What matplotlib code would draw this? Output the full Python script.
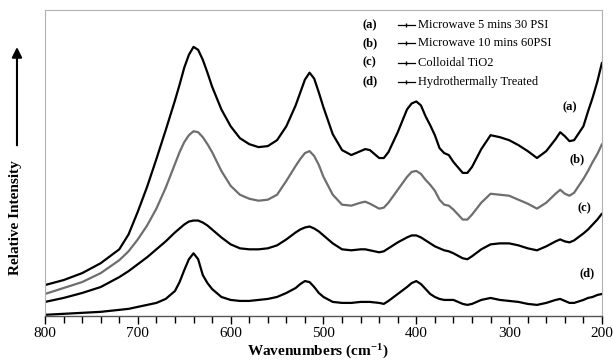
import numpy as np
import matplotlib
matplotlib.use("Agg")
import matplotlib.pyplot as plt
from matplotlib.patches import FancyArrowPatch
from matplotlib.ticker import MultipleLocator

plt.rcParams['font.family'] = ['Liberation Serif', 'DejaVu Serif']
plt.rcParams['mathtext.default'] = 'regular'

# Raman shift (cm-1) shared by all spectra
wavenumber = [800, 780, 760, 740, 720, 710, 700, 690, 680, 670,
              660, 655, 650, 645, 640, 635, 630, 625, 620, 610,
              600, 590, 580, 570, 560, 550, 540, 530, 525, 520,
              515, 510, 505, 500, 490, 480, 470, 460, 455, 450,
              440, 435, 430, 420, 410, 405, 400, 395, 390, 385,
              380, 375, 370, 365, 360, 350, 345, 340, 330, 320,
              310, 300, 290, 280, 270, 260, 250, 245, 240, 235,
              230, 220, 215, 210, 205, 200]

# intensities (arbitrary units, stacked as in the figure)
int_a = [31, 36, 43, 53, 67, 82, 105, 130, 158, 187,
         217, 233, 250, 263, 271, 268, 258, 245, 231, 208,
         191, 179, 173, 170, 171, 177, 191, 212, 225, 238,
         245, 239, 225, 210, 183, 167, 162, 166, 168, 167,
         159, 159, 165, 185, 208, 214, 216, 212, 201, 192,
         182, 169, 164, 162, 155, 144, 144, 150, 168, 182,
         180, 177, 172, 166, 159, 166, 178, 185, 181, 176,
         177, 191, 206, 220, 236, 255]
int_b = [22, 28, 34, 43, 56, 65, 77, 91, 108, 129,
         153, 165, 175, 182, 186, 185, 180, 173, 165, 146,
         131, 122, 118, 116, 117, 122, 136, 151, 158, 164,
         166, 161, 152, 140, 122, 112, 111, 114, 115, 113,
         108, 109, 114, 127, 140, 145, 146, 143, 137, 132,
         126, 117, 112, 111, 107, 97, 97, 102, 114, 123,
         122, 121, 117, 113, 108, 114, 123, 127, 123, 121,
         124, 138, 146, 155, 163, 173]
int_c = [14, 18, 23, 29, 39, 45, 52, 59, 67, 75,
         84, 88, 92, 95, 96, 96, 94, 91, 87, 79,
         72, 68, 67, 67, 68, 71, 77, 84, 87, 89,
         90, 88, 85, 81, 73, 67, 66, 67, 67, 66,
         64, 65, 68, 74, 79, 81, 81, 79, 76, 73,
         70, 68, 66, 65, 63, 58, 57, 60, 67, 72,
         73, 73, 71, 68, 66, 70, 75, 77, 75, 74,
         76, 83, 87, 92, 97, 103]
int_d = [1, 2, 3, 4, 6, 7, 9, 11, 13, 17,
         25, 34, 46, 57, 63, 57, 41, 33, 27, 19,
         16, 15, 15, 16, 17, 19, 23, 28, 32, 35,
         34, 29, 23, 19, 14, 13, 13, 14, 14, 14,
         13, 12, 15, 22, 29, 33, 35, 32, 27, 22,
         19, 17, 16, 16, 16, 12, 11, 12, 16, 18,
         16, 15, 14, 12, 11, 13, 16, 17, 15, 13,
         13, 16, 18, 19, 21, 22]

legend_tags = ['(a)', '(b)', '(c)', '(d)']
legend_names = ['Microwave 5 mins 30 PSI', 'Microwave 10 mins 60PSI',
                'Colloidal TiO2', 'Hydrothermally Treated']

fig = plt.figure(figsize=(6.13, 3.63), dpi=100)
ax = fig.add_axes([0.0734, 0.13, 0.9086, 0.842])

series = [int_a, int_b, int_c, int_d]
colors = ['black', '#6e6e6e', 'black', 'black']
for vals, col in zip(series, colors):
    ax.plot(wavenumber, vals, color=col, lw=1.6,
            solid_joinstyle='round', solid_capstyle='round')

ax.set_xlim(800, 200)
ax.set_ylim(0, 308)
ax.xaxis.set_major_locator(MultipleLocator(100))
ax.xaxis.set_minor_locator(MultipleLocator(20))
ax.tick_params(axis='x', which='major', direction='out', length=6, width=1,
               labelsize=11, pad=2)
ax.tick_params(axis='x', which='minor', direction='out', length=5, width=1)
ax.set_yticks([])
for s in ['top', 'right', 'left']:
    ax.spines[s].set_color('#b0b0b0')
    ax.spines[s].set_linewidth(0.8)
ax.spines['bottom'].set_color('#555555')
ax.spines['bottom'].set_linewidth(1)

# legend drawn by hand
rows = [0.951, 0.893, 0.828, 0.766]
for tag, name, y in zip(legend_tags, legend_names, rows):
    ax.text(0.583, y, tag, transform=ax.transAxes, ha='center', va='center',
            fontsize=9, fontweight='bold')
    ax.plot([0.634, 0.649, 0.664], [y, y, y], transform=ax.transAxes, color='black',
            lw=0.9, marker='|', ms=3, markevery=[1])
    ax.text(0.670, y, name, transform=ax.transAxes, ha='left', va='center', fontsize=9)

# curve tags
tag_pos = [(0.943, 0.682), (0.955, 0.513), (0.969, 0.351), (0.973, 0.14)]
for tag, (x, y) in zip(legend_tags, tag_pos):
    ax.text(x, y, tag, transform=ax.transAxes, ha='center', va='center',
            fontsize=9, fontweight='bold')

fig.text(0.519, 0.006, 'Wavenumbers (cm$^{-1}$)', ha='center', va='bottom',
         fontsize=11, fontweight='bold')
fig.text(0.0245, 0.40, 'Relative Intensity', rotation=90, ha='center', va='center',
         fontsize=11, fontweight='bold')
fig.patches.append(FancyArrowPatch(
    (0.0277, 0.592), (0.0277, 0.878), transform=fig.transFigure,
    arrowstyle='-|>,head_length=6,head_width=3', color='black', lw=1.5))

fig.savefig('out.png', dpi=100)
